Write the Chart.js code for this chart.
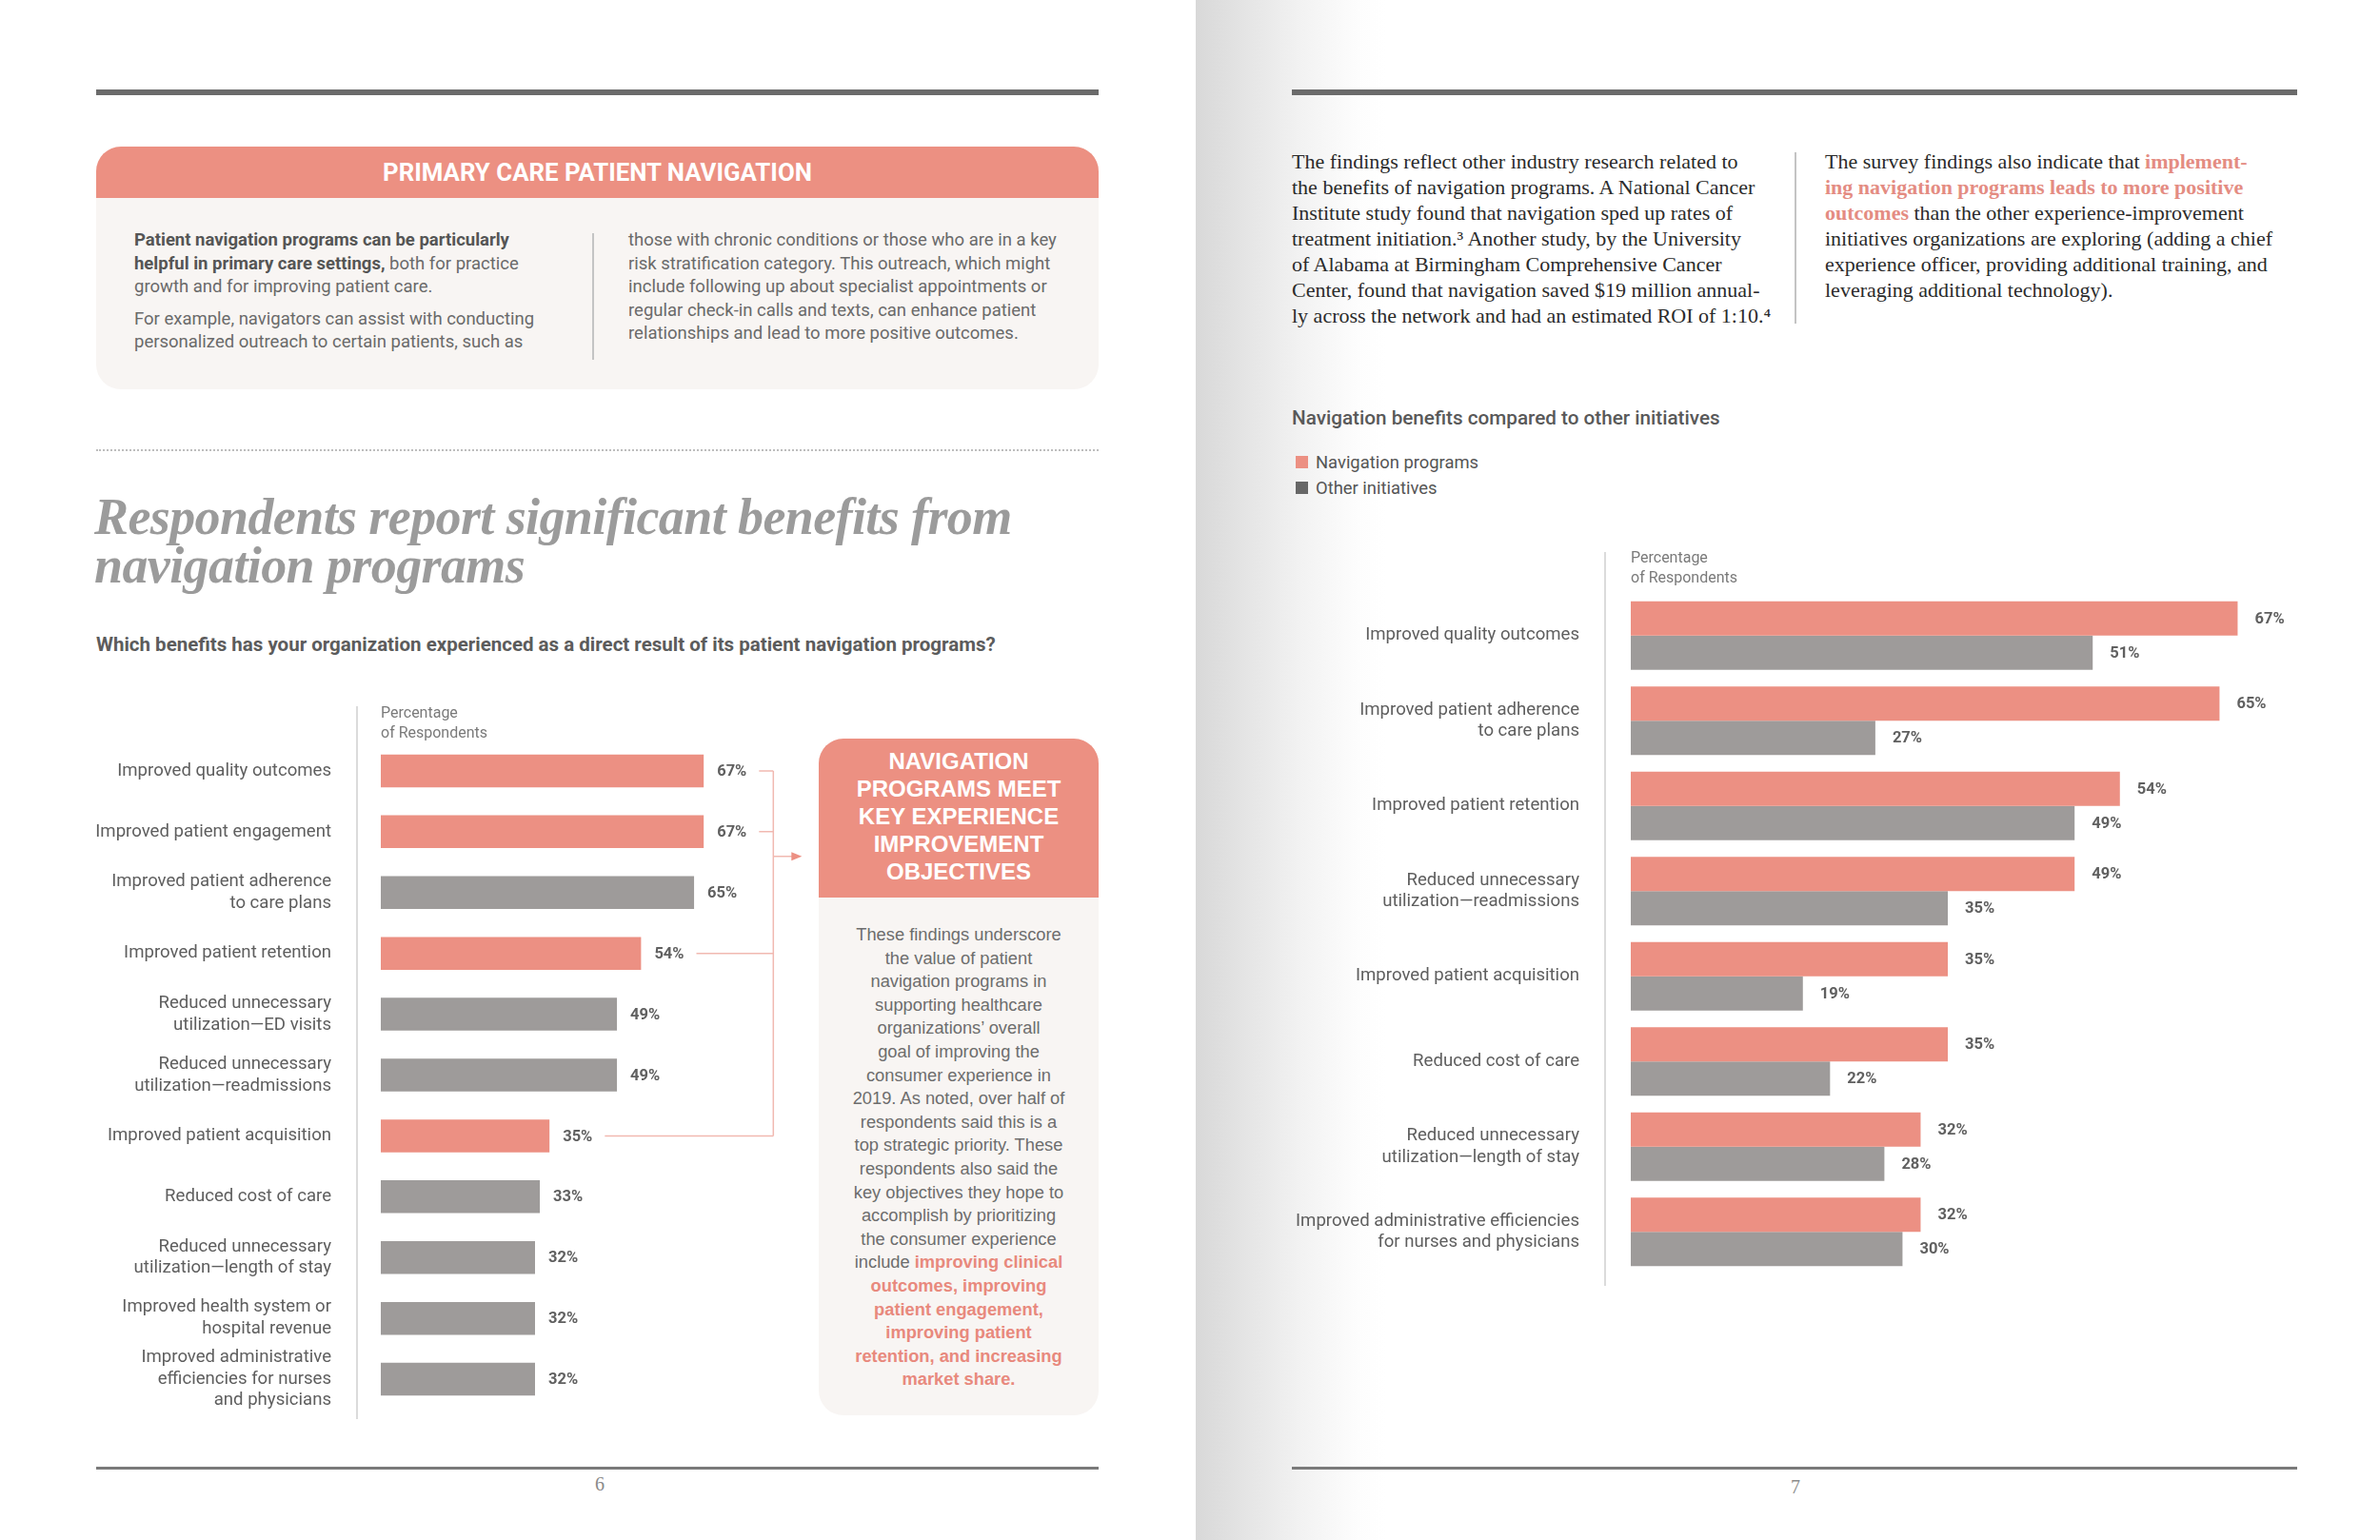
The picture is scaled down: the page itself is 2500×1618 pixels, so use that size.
<!DOCTYPE html>
<html>
<head>
<meta charset="utf-8">
<title>Navigation benefits</title>
<script src="https://cdn.jsdelivr.net/npm/chart.js@4.4.1/dist/chart.umd.min.js"></script>
<style>
  html, body { margin: 0; padding: 0; }
  body { width: 2500px; height: 1618px; position: relative; overflow: hidden; background: #fff; font-family: Roboto, sans-serif; }
  .abs { position: absolute; }
  #spine { left: 1256px; top: 0; width: 1244px; height: 1618px;
    background: linear-gradient(to right, #d8d8d8 0px, #e4e4e4 50px, #f2f2f2 110px, #fdfdfd 170px, #fff 200px); }
  .rule { height: 6px; background: #6b6b6b; }
  .footrule { height: 3px; background: #7a7a7a; }
  .pagenum { font-family: "Liberation Serif", serif; font-size: 20px; color: #8a8a8a; width: 40px; text-align: center; }

  #pcBox { left: 101px; top: 154px; width: 1053px; height: 255px; border-radius: 26px; background: #f8f5f3; overflow: hidden; }
  #pcHead { height: 54px; line-height: 54px; background: #ec9082; color: #fff; text-align: center; font-weight: 700; font-size: 25.8px; }
  .pcText { font-size: 18.5px; line-height: 24.5px; color: #6a6a6a; }
  .pcText b { color: #555; }
  .pcText p { margin: 0 0 9px 0; }

  #dots { left: 101px; top: 472px; width: 1053px; border-top: 2px dotted #bdbdbd; }
  #headline { left: 99px; top: 518px; width: 1100px; font-family: "Liberation Serif", serif; font-style: italic; font-weight: 700;
    font-size: 54px; line-height: 51px; color: #9b9b9b; letter-spacing: -0.6px; }
  #question { left: 101px; top: 665px; font-size: 20.5px; line-height: 24px; font-weight: 700; color: #5c5c5c; }

  #callout { left: 860px; top: 776px; width: 294px; height: 711px; border-radius: 26px; background: #f8f5f3; overflow: hidden; }
  #calloutHead { height: 158px; padding-top: 9px; background: #ec9082; color: #fff; text-align: center;
    font-family: "Liberation Sans", Arial, sans-serif; font-weight: 700; font-size: 24px; line-height: 29px; }
  #calloutBody { padding: 27px 8px 0 8px; text-align: center; font-family: "Liberation Sans", Arial, sans-serif;
    font-size: 18.3px; line-height: 24.6px; color: #6d6d6d; }
  #calloutBody b { color: #e8897d; }

  .serifText { font-family: "Liberation Serif", serif; font-size: 22px; line-height: 27px; color: #2b2b2b; }
  .serifText b { color: #e48c82; }
  .vline { width: 1.5px; background: #c4c4c4; }

  #chartTitle { left: 1357px; top: 427px; font-size: 20.7px; line-height: 24px; font-weight: 500; color: #595959; }
  #legend { left: 1361px; top: 472px; }
  .legItem { height: 27px; display: flex; align-items: center; font-size: 18.4px; color: #555; }
  .legBox { width: 13px; height: 13px; margin-right: 8px; }
</style>
</head>
<body>

<div id="spine" class="abs"></div>

<!-- left page -->
<div class="abs rule" style="left:101px; top:94px; width:1053px;"></div>

<div id="pcBox" class="abs">
  <div id="pcHead">PRIMARY CARE PATIENT NAVIGATION</div>
</div>
<div class="abs pcText" style="left:141px; top:240px; width:480px;">
  <p><b>Patient navigation programs can be particularly<br>helpful in primary care settings,</b> both for practice<br>growth and for improving patient care.</p>
  <p>For example, navigators can assist with conducting<br>personalized outreach to certain patients, such as</p>
</div>
<div class="abs vline" style="left:622px; top:245px; height:133px;"></div>
<div class="abs pcText" style="left:660px; top:240px; width:490px;">
  those with chronic conditions or those who are in a key<br>risk stratification category. This outreach, which might<br>include following up about specialist appointments or<br>regular check-in calls and texts, can enhance patient<br>relationships and lead to more positive outcomes.
</div>

<div id="dots" class="abs"></div>
<div id="headline" class="abs">Respondents report significant benefits from<br>navigation programs</div>
<div id="question" class="abs">Which benefits has your organization experienced as a direct result of its patient navigation programs?</div>

<div class="abs" style="left:40px; top:730px; width:820px; height:770px;"><canvas id="benefitsChart"></canvas></div>

<div id="callout" class="abs">
  <div id="calloutHead">NAVIGATION<br>PROGRAMS MEET<br>KEY EXPERIENCE<br>IMPROVEMENT<br>OBJECTIVES</div>
  <div id="calloutBody">These findings underscore<br>the value of patient<br>navigation programs in<br>supporting healthcare<br>organizations’ overall<br>goal of improving the<br>consumer experience in<br>2019. As noted, over half of<br>respondents said this is a<br>top strategic priority. These<br>respondents also said the<br>key objectives they hope to<br>accomplish by prioritizing<br>the consumer experience<br>include <b>improving clinical<br>outcomes, improving<br>patient engagement,<br>improving patient<br>retention, and increasing<br>market share.</b></div>
</div>

<div class="abs footrule" style="left:101px; top:1541px; width:1053px;"></div>
<div class="abs pagenum" style="left:610px; top:1548px;">6</div>

<!-- right page -->
<div class="abs rule" style="left:1357px; top:94px; width:1056px;"></div>
<div class="abs serifText" style="left:1357px; top:156px; width:510px;">
  The findings reflect other industry research related to<br>the benefits of navigation programs. A National Cancer<br>Institute study found that navigation sped up rates of<br>treatment initiation.³ Another study, by the University<br>of Alabama at Birmingham Comprehensive Cancer<br>Center, found that navigation saved $19 million annual-<br>ly across the network and had an estimated ROI of 1:10.⁴
</div>
<div class="abs vline" style="left:1885px; top:160px; height:180px;"></div>
<div class="abs serifText" style="left:1917px; top:156px; width:510px;">
  The survey findings also indicate that <b>implement-<br>ing navigation programs leads to more positive<br>outcomes</b> than the other experience-improvement<br>initiatives organizations are exploring (adding a chief<br>experience officer, providing additional training, and<br>leveraging additional technology).
</div>

<div id="chartTitle" class="abs">Navigation benefits compared to other initiatives</div>
<div id="legend" class="abs"></div>

<div class="abs" style="left:1317px; top:565px; width:1096px; height:800px;"><canvas id="compareChart"></canvas></div>

<div class="abs footrule" style="left:1357px; top:1541px; width:1056px;"></div>
<div class="abs pagenum" style="left:1866px; top:1551px;">7</div>

<script>
// ---- data: left chart (benefits experienced) ----
const benefitLabels = [
  'Improved quality outcomes',
  'Improved patient engagement',
  'Improved patient adherence\nto care plans',
  'Improved patient retention',
  'Reduced unnecessary\nutilization—ED visits',
  'Reduced unnecessary\nutilization—readmissions',
  'Improved patient acquisition',
  'Reduced cost of care',
  'Reduced unnecessary\nutilization—length of stay',
  'Improved health system or\nhospital revenue',
  'Improved administrative\nefficiencies for nurses\nand physicians'
];
const benefitValues = [67, 67, 65, 54, 49, 49, 35, 33, 32, 32, 32];
// benefits that match the key experience-improvement objectives (pink bars)
const objectiveBenefits = [
  'Improved quality outcomes',
  'Improved patient engagement',
  'Improved patient retention',
  'Improved patient acquisition'
];

// ---- data: right chart (navigation vs other initiatives) ----
const compareLabels = [
  'Improved quality outcomes',
  'Improved patient adherence\nto care plans',
  'Improved patient retention',
  'Reduced unnecessary\nutilization—readmissions',
  'Improved patient acquisition',
  'Reduced cost of care',
  'Reduced unnecessary\nutilization—length of stay',
  'Improved administrative efficiencies\nfor nurses and physicians'
];
const navigationValues = [67, 65, 54, 49, 35, 35, 32, 32];
const otherValues      = [51, 27, 49, 35, 19, 22, 28, 30];
const seriesNames = ['Navigation programs', 'Other initiatives'];

const PINK = '#ec9083';
const GRAY = '#9e9b9a';

Chart.defaults.font.family = 'Roboto, sans-serif';
Chart.defaults.color = '#666';

const VALUE_FONT = 'bold 16.5px Roboto, sans-serif';

// percent labels at the end of each bar
const valueLabels = {
  id: 'valueLabels',
  afterDatasetsDraw(chart, args, opts) {
    const ctx = chart.ctx;
    ctx.save();
    ctx.font = VALUE_FONT;
    ctx.fillStyle = '#606060';
    ctx.textAlign = 'left';
    ctx.textBaseline = 'middle';
    chart.data.datasets.forEach((ds, di) => {
      chart.getDatasetMeta(di).data.forEach((bar, i) => {
        ctx.fillText(ds.data[i] + '%', bar.x + opts.gap, bar.y + 1);
      });
    });
    ctx.restore();
  }
};

// thin vertical rule between category labels and bars
const axisRule = {
  id: 'axisRule',
  beforeDraw(chart, args, opts) {
    const ctx = chart.ctx;
    const x = chart.scales.x.getPixelForValue(0) - opts.offset;
    ctx.save();
    ctx.strokeStyle = '#cfcfcf';
    ctx.lineWidth = 1.5;
    ctx.beginPath();
    ctx.moveTo(x, opts.top);
    ctx.lineTo(x, chart.chartArea.bottom + opts.extend);
    ctx.stroke();
    ctx.restore();
  }
};

// bracket joining the objective bars, with an arrow to the callout
const objectiveBracket = {
  id: 'objectiveBracket',
  afterDatasetsDraw(chart) {
    const ctx = chart.ctx;
    const meta = chart.getDatasetMeta(0);
    const ds = chart.data.datasets[0];
    ctx.save();
    ctx.font = VALUE_FONT;
    const picks = [];
    benefitLabels.forEach((lab, i) => {
      if (objectiveBenefits.includes(lab)) {
        const bar = meta.data[i];
        const end = bar.x + 14 + ctx.measureText(ds.data[i] + '%').width;
        picks.push({ end, y: bar.y });
      }
    });
    const bx = Math.max(...picks.map(p => p.end)) + 28;
    ctx.strokeStyle = '#f1b9b1';
    ctx.lineWidth = 1.5;
    ctx.beginPath();
    picks.forEach(p => { ctx.moveTo(p.end + 13, p.y); ctx.lineTo(bx, p.y); });
    ctx.moveTo(bx, picks[0].y);
    ctx.lineTo(bx, picks[picks.length - 1].y);
    const ay = (meta.data[1].y + meta.data[2].y) / 2 - 6;
    ctx.moveTo(bx, ay);
    ctx.lineTo(bx + 20, ay);
    ctx.stroke();
    ctx.fillStyle = '#ec9083';
    ctx.beginPath();
    ctx.moveTo(bx + 19, ay - 4.5);
    ctx.lineTo(bx + 30, ay);
    ctx.lineTo(bx + 19, ay + 4.5);
    ctx.closePath();
    ctx.fill();
    ctx.restore();
  }
};

function categoryAxis(width, padding) {
  return {
    position: 'left',
    grid: { display: false },
    border: { display: false },
    ticks: { padding, autoSkip: false, color: '#5e5e5e', font: { size: 18.6, lineHeight: 1.22 } },
    afterFit: s => { s.width = width; s.paddingTop = 0; s.paddingBottom = 0; }
  };
}

function percentAxis(max, titlePadTop, height) {
  return {
    position: 'top',
    min: 0,
    max,
    grid: { display: false },
    border: { display: false },
    ticks: { display: false },
    title: {
      display: true,
      text: ['Percentage', 'of Respondents'],
      align: 'start',
      color: '#7a7a7a',
      font: { size: 16, lineHeight: 1.3 },
      padding: { top: titlePadTop, bottom: 0 }
    },
    afterFit: s => { s.height = height; s.paddingLeft = 0; s.paddingRight = 0; }
  };
}

// left chart
new Chart(document.getElementById('benefitsChart'), {
  type: 'bar',
  data: {
    labels: benefitLabels.map(l => l.split('\n')),
    datasets: [{
      label: 'Respondents',
      data: benefitValues,
      backgroundColor: benefitLabels.map(l => objectiveBenefits.includes(l) ? PINK : GRAY),
      barPercentage: 0.54,
      categoryPercentage: 1
    }]
  },
  options: {
    indexAxis: 'y',
    responsive: true,
    maintainAspectRatio: false,
    animation: false,
    layout: { padding: { right: 55, bottom: 19 } },
    plugins: {
      legend: { display: false },
      tooltip: { enabled: false },
      valueLabels: { gap: 14 },
      axisRule: { offset: 25, top: 12, extend: 10 }
    },
    scales: {
      y: categoryAxis(360, 44),
      x: percentAxis(80, 10, 48)
    }
  },
  plugins: [valueLabels, axisRule, objectiveBracket]
});

// right chart
const compareChart = new Chart(document.getElementById('compareChart'), {
  type: 'bar',
  data: {
    labels: compareLabels.map(l => l.split('\n')),
    datasets: [
      { label: seriesNames[0], data: navigationValues, backgroundColor: PINK, legendColor: PINK,
        barPercentage: 1, categoryPercentage: 0.805 },
      { label: seriesNames[1], data: otherValues, backgroundColor: GRAY, legendColor: '#676767',
        barPercentage: 1, categoryPercentage: 0.805 }
    ]
  },
  options: {
    indexAxis: 'y',
    responsive: true,
    maintainAspectRatio: false,
    animation: false,
    layout: { padding: { right: 34, bottom: 26 } },
    plugins: {
      legend: { display: false },
      tooltip: { enabled: false },
      valueLabels: { gap: 18 },
      axisRule: { offset: 27, top: 15, extend: 12 }
    },
    scales: {
      y: categoryAxis(396, 46),
      x: percentAxis(70, 12, 58)
    }
  },
  plugins: [valueLabels, axisRule]
});

// html legend, stacked like the print layout
const legendEl = document.getElementById('legend');
compareChart.data.datasets.forEach(ds => {
  const item = document.createElement('div');
  item.className = 'legItem';
  item.innerHTML = `<span class="legBox" style="background:${ds.legendColor}"></span>${ds.label}`;
  legendEl.appendChild(item);
});
</script>
</body>
</html>
